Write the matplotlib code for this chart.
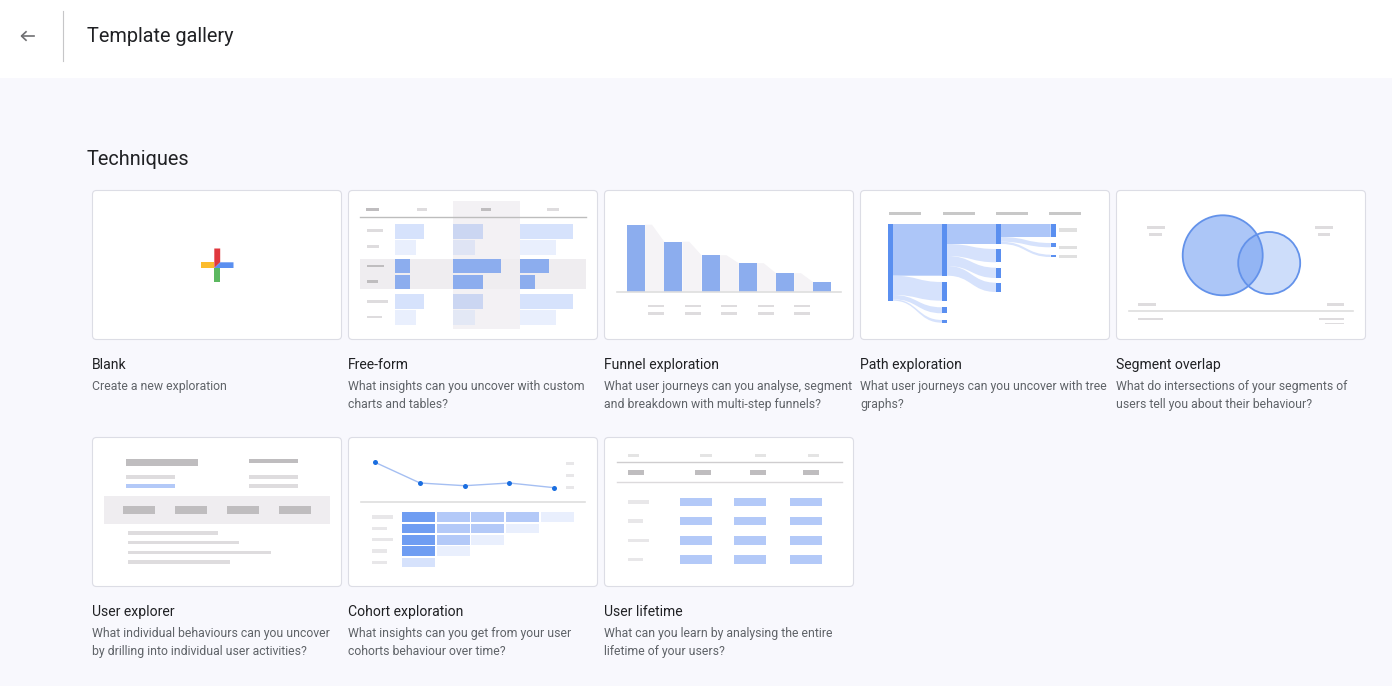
"""Template gallery screen: cards with little thumbnails, drawn in pixel coordinates."""
import matplotlib
matplotlib.use("Agg")
import matplotlib.pyplot as plt
from matplotlib.patches import Rectangle, FancyBboxPatch, Circle, PathPatch
from matplotlib.path import Path

W, H = 1392, 686
FONT = "Roboto"

# ── Text ───────────────────────────────────────────────────────────────────────
PAGE_TITLE = "Template gallery"
SECTION = "Techniques"
TITLES = ["Blank", "Free-form", "Funnel exploration", "Path exploration", "Segment overlap",
          "User explorer", "Cohort exploration", "User lifetime"]
DESCS = [
    ["Create a new exploration"],
    ["What insights can you uncover with custom", "charts and tables?"],
    ["What user journeys can you analyse, segment", "and breakdown with multi-step funnels?"],
    ["What user journeys can you uncover with tree", "graphs?"],
    ["What do intersections of your segments of", "users tell you about their behaviour?"],
    ["What individual behaviours can you uncover", "by drilling into individual user activities?"],
    ["What insights can you get from your user", "cohorts behaviour over time?"],
    ["What can you learn by analysing the entire", "lifetime of your users?"],
]
CARD_X = [92, 348, 604, 860, 1116, 92, 348, 604]
CARD_Y = [190, 190, 190, 190, 190, 437, 437, 437]

# ── Thumbnail values ───────────────────────────────────────────────────────────
FREE_WIDTHS = [[29.3, 21.3, 15.3, 15.3, 29.3, 21],
               [29.7, 22, 47.7, 29.7, 29.7, 21.7],
               [53, 35.7, 29.3, 15.3, 53, 35.7]]
FREE_LABEL_W = [16, 12.3, 17.7, 11.7, 21.3, 15.3]
FUNNEL_HEIGHTS = [67, 50, 36.5, 28.5, 18.5, 9.5]
PATH_NODES = [[(224, 300.7)],
              [(224, 275.7), (282, 300.7), (307.3, 313.3), (320, 322.7)],
              [(224, 244), (249, 262.3), (267.7, 278), (282.7, 292)],
              [(224, 237), (243, 247.3), (254.7, 257)]]
# (column, y0 top, y0 bottom, y1 top, y1 bottom, strong)
PATH_FLOWS = [(0, 224, 275.7, 224, 275.7, True),
              (0, 275.7, 295, 282, 300.7, False),
              (0, 295, 299.3, 307.3, 313.3, False),
              (0, 299.3, 300.7, 320, 322.7, False),
              (1, 224, 244, 224, 244, True),
              (1, 244, 256, 249, 262.3, False),
              (1, 256, 266, 267.7, 278, False),
              (1, 266, 275.7, 282.7, 292, False),
              (2, 224, 237, 224, 237, True),
              (2, 237, 241.7, 243, 247.3, False),
              (2, 241.7, 244, 254.7, 257, False)]
COHORT_LINE = [462.3, 483, 485.7, 483, 487.7]
COHORT_CELLS = [["d", "m", "m", "m", "l"],
                ["d", "m", "m", "l"],
                ["d", "m", "l"],
                ["d", "l"],
                ["p"]]
COHORT_LABEL_W = [20.3, 14.7, 20.3, 14.7, 14.7]
LIFETIME_LABEL_W = [20.3, 14.7, 20.3, 14.7]
EXPLORER_LINE_END = [218, 239, 271, 229.7]

# ── Colours ────────────────────────────────────────────────────────────────────
BG = "#f8f8fd"
BORDER = "#dcdde5"
INK = "#202124"
SUB = "#5f6368"
G_DARK = "#bfbdbf"
G_MID = "#c8c8c8"
G_LIGHT = "#dedcde"
G_PALE = "#e8e7e9"
BAND = "#efedf0"
BAND2 = "#f3f1f4"
B_STRONG = "#5a8ff0"
B_DARK = "#8cadee"
B_MID = "#b3c9f8"
B_FLOW = "#adc6f8"
B_PALE = "#d6e2fc"
B_LIGHT = "#e9effd"

fig = plt.figure(figsize=(W / 100, H / 100), dpi=100, facecolor=BG)
ax = fig.add_axes([0, 0, 1, 1])
ax.set_xlim(0, W)
ax.set_ylim(H, 0)
ax.axis("off")


def box(x0, x1, y0, y1, color, z=2):
    ax.add_patch(Rectangle((x0, y0), x1 - x0, y1 - y0, fc=color, ec="none", zorder=z))


def dash(x0, w, yc, color=G_LIGHT, h=2.8, z=3):
    box(x0, x0 + w, yc - h / 2, yc + h / 2, color, z)


# ── Header ─────────────────────────────────────────────────────────────────────
box(0, W, 0, 78, "white", 1)
ax.plot([63, 63], [11, 61], color="#c6c6c8", lw=0.8, zorder=2)
ax.plot([21.5, 34], [36, 36], color="#6f6f72", lw=1.2, zorder=2)
ax.plot([26, 21.5, 26], [31.8, 36, 40.2], color="#6f6f72", lw=1.2, zorder=2)
ax.text(87, 42.5, PAGE_TITLE, fontsize=14.35, color=INK, family=FONT, va="baseline")
ax.text(87, 165, SECTION, fontsize=14.35, color=INK, family=FONT, va="baseline")

# ── Cards ──────────────────────────────────────────────────────────────────────
for x, y, title, desc in zip(CARD_X, CARD_Y, TITLES, DESCS):
    ax.add_patch(FancyBboxPatch((x + 0.5, y + 0.5), 249, 149, boxstyle="round,pad=0,rounding_size=4",
                                fc="white", ec=BORDER, lw=0.8, zorder=1.5))
    ax.text(x, y + 179, title, fontsize=10.1, color=INK, family=FONT, va="baseline")
    for i, line in enumerate(desc):
        ax.text(x, y + 200 + i * 18, line, fontsize=8.8, color=SUB, family=FONT, va="baseline")

# ── Blank: plus ────────────────────────────────────────────────────────────────
ax.fill([214.3, 220.2, 220.2, 214.3], [248.5, 248.5, 262.3, 268], color="#e0383e", lw=0, zorder=2)
box(201, 214.3, 262.3, 268, "#fbbc2d")
ax.fill([214.3, 220.2, 233.5, 233.5], [268, 262.3, 262.3, 268], color="#5a8ff0", lw=0, zorder=2)
box(214.3, 220.2, 268, 281.7, "#5cb860")

# ── Free-form ──────────────────────────────────────────────────────────────────
box(453, 520, 201, 329, BAND2, 2)
box(360.3, 585.7, 258.7, 289, BAND, 2.1)
ax.plot([360.3, 585.7], [217.3, 217.3], color="#bdbdbd", lw=1, zorder=3)
for x0, w, c in zip([366.3, 417, 481, 547], [12.7, 10, 10, 12], [G_DARK, G_LIGHT, G_DARK, G_LIGHT]):
    dash(x0, w, 209.3, c)
free_tops = [223.7, 240, 258.7, 274.7, 294.3, 310]
free_h = [15.3, 15, 14.6, 14.3, 15, 15]
free_cols = [[B_PALE, B_LIGHT, B_DARK, B_DARK, B_PALE, B_LIGHT],
             ["#cbd6f2", "#dfe4f4", B_DARK, B_DARK, "#cbd6f2", "#e3e8f5"],
             [B_PALE, B_LIGHT, B_DARK, B_DARK, B_PALE, B_LIGHT]]
for x0, widths, colors in zip([395, 453, 520], FREE_WIDTHS, free_cols):
    for top, h, w, c in zip(free_tops, free_h, widths, colors):
        box(x0, x0 + w, top, top + h, c, 3)
for yc, w, c in zip([230.7, 246.3, 266, 281.7, 301.3, 317], FREE_LABEL_W,
                    [G_LIGHT, G_LIGHT, G_DARK, G_DARK, G_LIGHT, G_LIGHT]):
    dash(366.5, w, yc, c)

# ── Funnel ─────────────────────────────────────────────────────────────────────
base = 291.7
step = 37.25
for i, h in enumerate(FUNNEL_HEIGHTS):
    x0 = 627 + i * step
    box(x0, x0 + 18.2, base - h, base, B_DARK, 3)
    if i + 1 < len(FUNNEL_HEIGHTS):
        nh = FUNNEL_HEIGHTS[i + 1]
        ax.fill([x0 + 18.2, x0 + 25, x0 + step, x0 + step, x0 + 18.2],
                [base - h, base - h, base - nh, base, base], color="#f5f3f6", lw=0, zorder=2)
ax.plot([617, 841], [base, base], color="#dedede", lw=1.2, zorder=4)
for i in range(5):
    dash(648 + i * 36.5, 16, 306)
    dash(648 + i * 36.5, 16, 313.7)

# ── Path ───────────────────────────────────────────────────────────────────────
col_x = [888, 942, 996, 1050.7]
for i in range(4):
    dash(889.3 + i * 53.2, 32, 213.7, G_MID, 3.5)
    for y0, y1 in PATH_NODES[i]:
        box(col_x[i], col_x[i] + 5, y0, y1, B_STRONG, 4)
for c, a0, a1, b0, b1, strong in PATH_FLOWS:
    x0, x1 = col_x[c] + 5, col_x[c + 1]
    xm = (x0 + x1) / 2
    verts = [(x0, a0), (xm, a0), (xm, b0), (x1, b0), (x1, b1), (xm, b1), (xm, a1), (x0, a1), (x0, a0)]
    codes = [Path.MOVETO, Path.CURVE4, Path.CURVE4, Path.CURVE4, Path.LINETO,
             Path.CURVE4, Path.CURVE4, Path.CURVE4, Path.CLOSEPOLY]
    ax.add_patch(PathPatch(Path(verts, codes), fc=B_FLOW if strong else B_PALE, ec="none", zorder=3))
for yc in [230, 247.3, 256.7]:
    dash(1059, 18, yc, "#e0e0e0", 3.5)

# ── Segment overlap ────────────────────────────────────────────────────────────
ax.add_patch(Circle((1222.7, 255.3), 40, fc=B_STRONG, ec="none", alpha=0.5, zorder=3))
ax.add_patch(Circle((1269.2, 263), 31, fc=B_STRONG, ec="none", alpha=0.3, zorder=3.1))
ax.add_patch(Circle((1222.7, 255.3), 40, fc="none", ec="#6392ea", lw=1.3, zorder=3.2))
ax.add_patch(Circle((1269.2, 263), 31, fc="none", ec="#6392ea", lw=1.3, zorder=3.2))
ax.plot([1128.7, 1353.3], [311, 311], color="#dedede", lw=1.2, zorder=3)
for x0, w, yc, c in [(1147, 17.7, 227.7, G_LIGHT), (1149.3, 12.7, 234.3, G_LIGHT),
                     (1315, 17.7, 227.7, G_LIGHT), (1317.7, 12.3, 234.3, G_LIGHT),
                     (1138.3, 17.7, 304.7, G_LIGHT), (1138.3, 24.7, 319, G_LIGHT),
                     (1326.7, 17.6, 304.7, G_LIGHT), (1319.3, 25, 319, G_LIGHT)]:
    dash(x0, w, yc, c)
dash(1325, 19, 323.7, G_LIGHT, 1.5)

# ── User explorer ──────────────────────────────────────────────────────────────
box(126, 198, 459, 466, G_DARK)
box(249, 298, 459, 462.7, G_DARK)
box(126, 175, 475, 478.7, G_LIGHT)
box(126, 175, 484, 487.7, B_MID)
box(249, 298, 475, 478.7, G_LIGHT)
box(249, 298, 484, 487.7, G_LIGHT)
box(104.3, 329.7, 496, 523.7, BAND)
for x0 in [123.3, 175, 227, 278.7]:
    box(x0, x0 + 32, 506.3, 514, G_DARK, 3)
for yc, x1 in zip([533, 542.7, 552.3, 562], EXPLORER_LINE_END):
    dash(128, x1 - 128, yc, G_LIGHT, 3.5)

# ── Cohort ─────────────────────────────────────────────────────────────────────
cohort_x = [375, 420, 464.7, 509.3, 554.3]
ax.plot(cohort_x, COHORT_LINE, color="#a5bff2", lw=1, zorder=3)
ax.scatter(cohort_x, COHORT_LINE, s=13, color="#1a6ee0", lw=0, zorder=4)
for yc in [463.7, 475.7, 487.7]:
    dash(566, 7.7, yc, G_PALE)
ax.plot([360.7, 585.3], [501.7, 501.7], color="#dedede", lw=1.2, zorder=3)
shade = {"d": "#6f9df2", "m": B_MID, "l": B_LIGHT, "p": B_PALE}
for r, row in enumerate(COHORT_CELLS):
    top = 512.3 + r * 11.33
    for k, cell in enumerate(row):
        x0 = 401.7 + k * 34.8
        box(x0, x0 + 33, top, top + 9.7, shade[cell], 3)
    dash(372.3, COHORT_LABEL_W[r], top + 4.8, G_PALE, 3.3)

# ── User lifetime ──────────────────────────────────────────────────────────────
ax.plot([617.3, 841.7], [462, 462], color="#cfcdcf", lw=1, zorder=3)
ax.plot([617.3, 841.7], [482, 482], color="#dcdadc", lw=1, zorder=3)
for x0, w in zip([628.3, 700.3, 755, 807.7], [11, 11.4, 11.3, 11]):
    dash(x0, w, 455.3, "#e4e4e4", 3)
for x0 in [628.3, 695.3, 750, 802.7]:
    box(x0, x0 + 16, 469.7, 475.3, G_DARK, 3)
for yc, w in zip([502, 521, 540.3, 559.7], LIFETIME_LABEL_W):
    dash(628.3, w, yc, G_PALE, 3.3)
    for x0 in [679.7, 734, 789.7]:
        box(x0, x0 + 32, yc - 4.3, yc + 4.3, B_MID, 3)

fig.savefig("out.png", dpi=100, facecolor=fig.get_facecolor())
